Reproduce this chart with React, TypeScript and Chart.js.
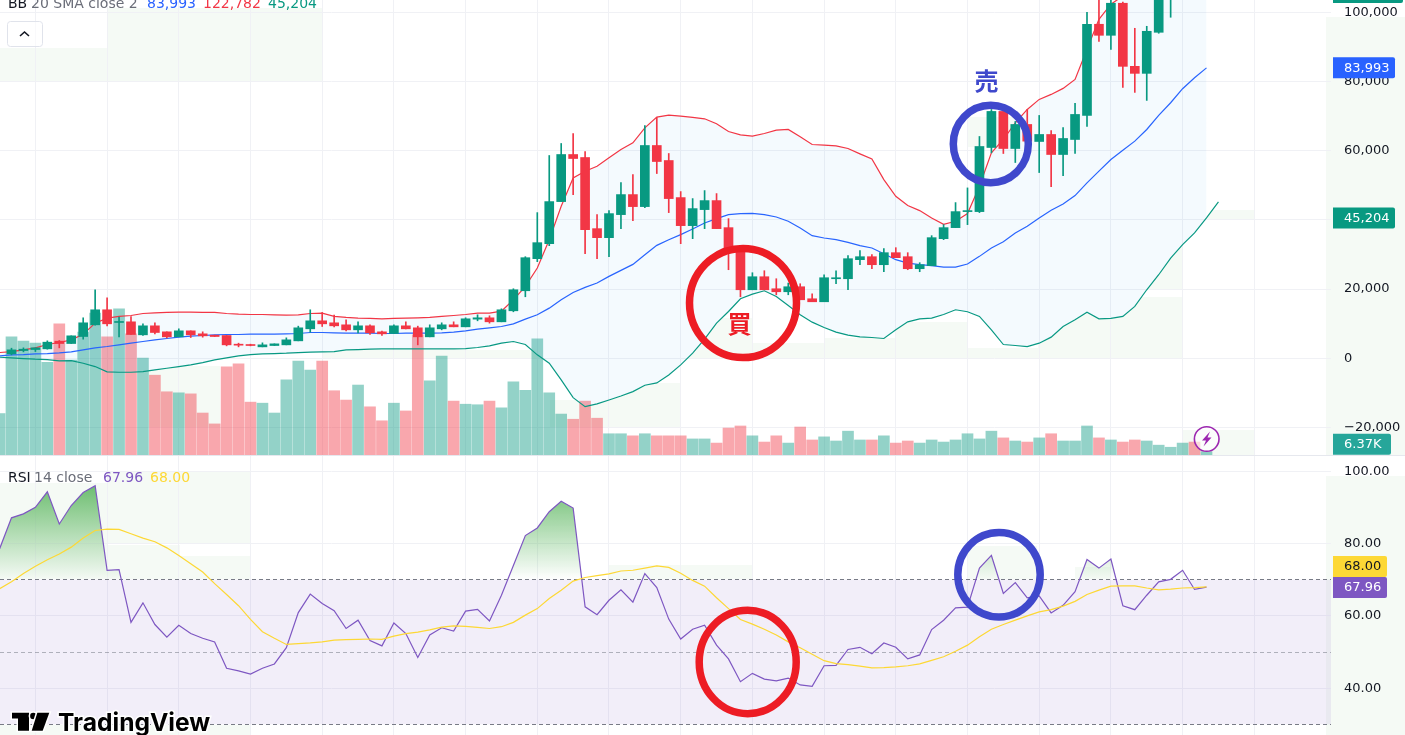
import { useEffect, useRef } from 'react';
import { Chart, registerables } from 'chart.js';

Chart.register(...registerables);

// candles start at bar 0, everything else at bar -1 (half hidden at the left edge)
const candleOpen = [
  1256, 2222, 2512, 2705, 4927, 4250, 6279, 9660, 14007, 10336,
  10529, 6762, 9370, 7631, 6182, 7921, 7052, 6665, 6569, 4057,
  3864, 3284, 3671, 3864, 5023, 8501, 10819, 10240, 9660, 8211,
  9370, 7631, 7149, 9370, 8791, 6182, 8501, 9660, 9080, 11302,
  11689, 10529, 13717, 19513, 28787, 33134, 45305, 58926, 58057, 37481,
  34873, 41538, 47334, 43856, 61534, 57187, 46465, 38350, 42988, 45595,
  37771, 31878, 19803, 23570, 20093, 19223, 20673, 17195, 16325, 22991,
  22991, 28497, 29366, 27048, 30526, 29366, 25889, 26759, 34583, 37771,
  42407, 42407, 60955, 71387, 60665, 67620, 62693, 64722, 58926, 63273,
  70228, 96600, 93412, 102686, 84428, 82400, 94282, 108000, 112000, 118000, 105000,
];
const candleClose = [
  2415, 2608, 2995, 4637, 4250, 6472, 10240, 14007, 9950, 10529,
  6859, 9370, 7438, 6182, 7921, 6762, 6472, 6279, 3864, 3767,
  3671, 3864, 4154, 5313, 8791, 10819, 9950, 9370, 8211, 9370,
  7342, 7052, 9370, 8501, 6182, 8791, 9660, 9080, 11399, 11689,
  10529, 14007, 19803, 29077, 33424, 45305, 58926, 57767, 37191, 34873,
  41828, 47334, 43856, 61534, 56897, 46175, 38350, 43277, 45595, 37481,
  31685, 19803, 23570, 19803, 19223, 20673, 16905, 16325, 23281, 23281,
  28787, 29366, 27048, 30526, 29077, 25889, 27048, 34873, 37771, 42407,
  42698, 61244, 71387, 60665, 67620, 62790, 64722, 58926, 63563, 70518,
  96600, 93412, 102686, 84428, 82400, 94571, 108000, 112000, 118000, 105000, 105800,
];
const candleHigh = [
  2898, 2995, 2995, 5023, 5120, 6472, 11689, 19803, 17485, 11882,
  12075, 9950, 10240, 7631, 8501, 7921, 7631, 6665, 6569, 4347,
  4057, 4444, 4154, 5893, 9274, 14007, 13234, 12462, 11109, 10529,
  9660, 7825, 9660, 10529, 9274, 9660, 10240, 10529, 11689, 12558,
  12268, 14297, 20093, 29366, 42118, 58637, 62114, 65012, 59797, 41538,
  42698, 50812, 53130, 67330, 69648, 59217, 48203, 46175, 48493, 47624,
  40379, 31878, 24730, 25309, 22991, 21735, 21542, 18644, 24150, 25309,
  29656, 31105, 29946, 31685, 31975, 30526, 27628, 35453, 38640, 45016,
  49266, 64142, 71967, 71387, 68490, 71967, 70228, 65881, 66752, 73706,
  100078, 103837, 105000, 103000, 95441, 96020, 110000, 114000, 120000, 119000, 106500,
];
const candleLow = [
  966, 1835, 1932, 2608, 2995, 4250, 5506, 9563, 9370, 6182,
  6859, 6569, 7052, 5893, 6182, 5989, 6086, 6279, 3574, 3284,
  3574, 3284, 3671, 3864, 5023, 7535, 9177, 9080, 7921, 7342,
  6859, 6569, 7149, 8501, 3864, 6182, 8211, 9080, 9080, 10819,
  10143, 10529, 13427, 17774, 27918, 32554, 45305, 47334, 30236, 28787,
  29366, 37481, 39799, 43566, 53420, 42118, 33134, 34583, 37481, 37481,
  25599, 17774, 19803, 19803, 18354, 18354, 16905, 16325, 16325, 21542,
  19803, 27048, 25889, 25020, 29077, 25599, 25020, 26759, 34293, 37771,
  38640, 42118, 59400, 59216, 56608, 62790, 53710, 49652, 52840, 59216,
  67040, 91673, 89356, 78343, 76894, 74576, 94000, 98630, 110000, 104500, 104000,
];
const volumeK = [
  80, 228, 220, 216, 179, 253, 183, 237, 274, 228, 282,
  234, 187, 154, 122, 120, 118, 81, 60, 170, 176,
  102, 100, 81, 145, 181, 164, 181, 124, 106, 135,
  93, 66, 100, 85, 232, 143, 191, 104, 98, 97,
  104, 91, 141, 125, 224, 120, 79, 69, 104, 71,
  41, 41, 37, 41, 37, 37, 37, 31, 31, 23,
  52, 56, 37, 25, 37, 23, 54, 29, 35, 27,
  46, 29, 29, 37, 23, 27, 23, 29, 25, 29,
  41, 31, 46, 33, 27, 25, 33, 41, 27, 27,
  56, 33, 29, 25, 29, 27, 19, 15, 23, 25, 6.37,
];
const bbUpper = [
  1640, 1930, 2415, 2995, 3960, 4540, 5310, 6950, 10140, 11590, 12080,
  12360, 12940, 13140, 13230, 13330, 13330, 13230, 13230, 12940, 12750,
  12650, 12650, 12560, 12460, 12560, 12940, 13040, 12080, 11790, 11590,
  11500, 11400, 11500, 11590, 11690, 11790, 12080, 12360, 12650, 13040,
  13040, 13620, 16900, 20770, 26080, 34290, 43950, 52160, 54100, 55550,
  57960, 60380, 62310, 66650, 69750, 70320, 70040, 69650, 69260, 67810,
  65590, 64630, 64240, 65010, 65980, 66170, 64050, 61820, 61630, 61440,
  60660, 59120, 57670, 51680, 46850, 44150, 42700, 40570, 38740, 39610,
  41830, 49750, 59410, 63270, 68100, 71970, 74870, 76310, 78050, 80660,
  89360, 98050, 102400, 104800, 108000, 110500, 112800, 115000, 117500, 120000, 122782,
];
const bbBasis = [
  680, 970, 1060, 1260, 1350, 1550, 1840, 2420, 2990, 3380, 3860,
  4350, 4830, 5310, 5700, 6090, 6380, 6570, 6760, 6860, 6860,
  6960, 6960, 6960, 7050, 7150, 7440, 7440, 7340, 7250, 7250,
  7250, 7150, 7150, 7250, 7250, 7250, 7340, 7530, 7920, 8400,
  8790, 9180, 9950, 11300, 12560, 14490, 16900, 19030, 20480, 21740,
  23670, 25410, 27140, 29950, 32650, 34290, 35740, 37380, 39120, 40380,
  41540, 41830, 41920, 41540, 40860, 39610, 37670, 35450, 34780, 34290,
  33520, 32550, 31880, 30240, 28500, 27530, 27050, 26760, 26370, 26370,
  27240, 29460, 31880, 33710, 36230, 38160, 40570, 42790, 44630, 47040,
  50720, 54100, 57480, 60180, 62790, 66170, 70230, 73900, 77960, 81140, 83993,
];
const bbLower = [
  290, 100, -100, -290, -390, -770, -680, -1450, -2420, -3960, -4060,
  -4060, -3860, -3380, -2900, -2420, -1930, -1260, -480, 100, 680,
  1060, 1260, 1350, 1450, 1640, 1740, 1840, 1930, 2420, 2510,
  2610, 2700, 2700, 2700, 2700, 2700, 2700, 2700, 2800, 3090,
  3570, 4350, 4830, 3960, 970, -1450, -6280, -11400, -14010, -13230,
  -12080, -10920, -9660, -7820, -7150, -4830, -1930, 1450, 5510, 10140,
  13520, 17200, 18550, 19510, 17870, 15260, 12560, 10430, 8890, 7530,
  6670, 6180, 5990, 5700, 8210, 10530, 11400, 11590, 12650, 14010,
  13430, 12080, 8210, 3960, 3670, 3380, 4350, 6090, 9180, 11110,
  13330, 11400, 11500, 12080, 14970, 19800, 24150, 28980, 32840, 36230, 40570, 45204,
];
const rsiLine = [
  78.5, 87.1, 88.2, 90, 94.3, 85.4, 90.5, 94.1, 96, 72.6, 72.8,
  58.2, 63.6, 57.6, 54.1, 57.4, 55.1, 53.8, 52.8, 45.5, 44.8,
  43.9, 45.5, 46.7, 51.2, 60.9, 66, 63.4, 61.4, 56.5, 58.8,
  53.2, 51.7, 58, 55.1, 48.5, 54.7, 56.7, 55.8, 61.3, 61.8,
  58.6, 65.7, 73.9, 82.2, 84.3, 88.8, 91.7, 89.8, 62.5, 60.3,
  64.3, 67.2, 63.8, 71.7, 67.8, 59.1, 53.6, 56.3, 57.4, 51.9,
  48.1, 41.8, 44.1, 42.5, 42, 42.8, 40.9, 40.5, 46.2, 46.3,
  50.7, 51.3, 49.5, 52.5, 51.3, 48.1, 49.2, 56.2, 58.8, 62.2,
  62.4, 73.2, 76.7, 66.2, 69.2, 65, 65.5, 60.8, 62.9, 66.7,
  75.6, 73.2, 75.7, 62.8, 61.7, 65.7, 69.4, 70.1, 72.6, 67.3, 67.96,
];
const rsiMa = [
  67.5, 69.4, 71.7, 73.7, 75.5, 77.1, 79, 81.5, 83.6, 84, 83.9,
  82.7, 81.5, 80.5, 78.8, 76.7, 74.4, 72.1, 68.9, 65.9, 62.8,
  59, 55.6, 53.8, 52.1, 52.3, 52.5, 52.8, 53.3, 53.4, 53.5,
  53.6, 53.5, 54.4, 55.1, 55.5, 56.1, 56.9, 57.2, 57.1, 56.8,
  56.5, 57, 58.2, 60.2, 62, 64.8, 67.1, 69.6, 70.6, 71.1,
  71.6, 72.4, 72.6, 73.2, 73.8, 73.4, 71.8, 69.8, 68.2, 65,
  62, 59, 57.7, 56.3, 54.7, 52.8, 51.2, 49.4, 47.6, 46.8,
  46.5, 46.1, 45.6, 45.7, 45.9, 46.2, 46.7, 47.7, 48.7, 50.2,
  51.9, 54.2, 56.3, 57.6, 58.8, 60, 61.1, 61.7, 62.7, 64,
  65.9, 67.1, 68.2, 68.3, 68.3, 67.7, 67.2, 67.4, 67.7, 67.8, 68,
];
const gridBars = [2, 8, 14, 20, 26, 32, 38, 44, 50, 56, 62, 68, 74, 80, 86, 92, 98, 104];
const priceTicks = [-20000, 0, 20000, 40000, 60000, 80000, 100000];
const rsiTicks = [40, 60, 80, 100];

// pale green smudges in the screenshot: x, y, w, h in page pixels
const priceShade = [
  [0, 48, 107, 33], [107, 8, 216, 73], [322, 350, 375, 8], [148, 366, 72, 61],
  [550, 400, 60, 27], [610, 383, 70, 44], [697, 318, 56, 40], [753, 343, 71, 15],
  [824, 338, 72, 20], [896, 322, 72, 36], [968, 348, 70, 10], [968, 117, 47, 30],
  [1038, 297, 145, 61], [1141, 243, 42, 47], [1183, 210, 71, 10], [1183, 430, 71, 25],
  [1326, 17, 79, 438],
];
const rsiShade = [
  [0, 483, 107, 96], [107, 472, 143, 71], [107, 545, 73, 34], [180, 556, 70, 23],
  [0, 725, 250, 10], [609, 565, 144, 14], [967, 546, 70, 33], [1075, 567, 36, 12],
  [1326, 476, 79, 259],
];

const UP = '#089981';
const DOWN = '#F23645';
const GRID = '#f0f1f5';
const TEXT = '#131722';
const AXIS_FONT = { family: "'DejaVu Sans'", size: 13 };
const PANE_W = 1405;
const PRICE_H = 455;
const RSI_TOP = 456;
const RSI_H = 279;
const X_MIN = -0.962;
const X_MAX = 110;
const RSI_MIN = 27.05;
const RSI_MAX = 104.2;

const fromBar = (values: number[], first: number) => values.map((y, i) => ({ x: i + first, y }));
const isUp = (bar: number) => bar < 0 || candleClose[bar] >= candleOpen[bar];
const fixedTicks = (values: number[]) => (s: any) => {
  s.ticks = values.map((value) => ({ value }));
};

const xScale = {
  type: 'linear',
  min: X_MIN,
  max: X_MAX,
  offset: false,
  border: { display: false },
  grid: { color: GRID, drawTicks: false, offset: false },
  ticks: { display: false },
  afterBuildTicks: fixedTicks(gridBars),
};

const fitAxis = (s: any) => {
  s.width = PANE_W - 1326;
  s.paddingTop = 0;
  s.paddingBottom = 0;
};

interface Tag {
  scale: string;
  value: number;
  text: string;
  bg: string;
  fg: string;
  w: number;
  dy?: number;
}

// background smudges below the grid, price tags on top of the axis
const paneDecor = (id: string, shade: number[][], top: number, tags: Tag[]) => ({
  id,
  beforeDraw(chart: any) {
    const { ctx } = chart;
    ctx.save();
    ctx.fillStyle = '#f5faf5';
    shade.forEach(([x, y, w, h]) => ctx.fillRect(x, y - top, w, h));
    ctx.restore();
  },
  afterDraw(chart: any) {
    const { ctx, chartArea } = chart;
    ctx.save();
    ctx.font = "13px 'DejaVu Sans'";
    ctx.textBaseline = 'middle';
    tags.forEach((t) => {
      const y = chart.scales[t.scale].getPixelForValue(t.value) + (t.dy || 0);
      ctx.fillStyle = t.bg;
      ctx.beginPath();
      ctx.roundRect(chartArea.right + 7, y - 10.5, t.w, 21, [0, 2, 2, 0]);
      ctx.fill();
      ctx.fillStyle = t.fg;
      ctx.fillText(t.text, chartArea.right + 18, y + 0.5);
    });
    ctx.restore();
  },
});

// the smudges don't show inside the bollinger band, so wipe them there
const bandKnockout = {
  id: 'bandKnockout',
  beforeDraw(chart: any) {
    const { ctx, chartArea, scales } = chart;
    ctx.save();
    ctx.beginPath();
    ctx.rect(chartArea.left, chartArea.top, chartArea.width, chartArea.height);
    ctx.clip();
    ctx.beginPath();
    bbUpper.forEach((v, i) => ctx.lineTo(scales.x.getPixelForValue(i - 1), scales.y.getPixelForValue(v)));
    for (let i = bbLower.length - 1; i >= 0; i--) {
      ctx.lineTo(scales.x.getPixelForValue(i - 1), scales.y.getPixelForValue(bbLower[i]));
    }
    ctx.closePath();
    ctx.fillStyle = '#fff';
    ctx.fill();
    ctx.restore();
  },
};

const rsiLevels = {
  id: 'rsiLevels',
  beforeDatasetsDraw(chart: any) {
    const { ctx, chartArea, scales } = chart;
    const right = chartArea.right + 5;
    const y70 = scales.y.getPixelForValue(70);
    const y50 = scales.y.getPixelForValue(50);
    const y30 = scales.y.getPixelForValue(30);
    ctx.save();
    ctx.fillStyle = 'rgba(126,87,194,0.1)';
    ctx.fillRect(0, y70, right, y30 - y70);
    ctx.setLineDash([4, 3]);
    ctx.lineWidth = 1;
    [[y70, '#787B86'], [y50, 'rgba(120,123,134,0.55)'], [y30, '#787B86']].forEach(([y, c]: any) => {
      ctx.strokeStyle = c;
      ctx.beginPath();
      ctx.moveTo(0, Math.floor(y) + 0.5);
      ctx.lineTo(right, Math.floor(y) + 0.5);
      ctx.stroke();
    });
    ctx.restore();
  },
};

function PricePane() {
  const ref = useRef<HTMLCanvasElement>(null);

  useEffect(() => {
    if (!ref.current) return;
    const candleColors = candleOpen.map((_, i) => (isUp(i) ? UP : DOWN));
    const volumeColors = volumeK.map((_, i) => (isUp(i - 1) ? 'rgba(8,153,129,0.44)' : 'rgba(242,54,69,0.44)'));
    const line = (label: string, data: number[], color: string, extra = {}) => ({
      type: 'line',
      label,
      data: fromBar(data, -1),
      borderColor: color,
      borderWidth: 1.2,
      pointRadius: 0,
      tension: 0,
      order: 5,
      ...extra,
    });
    const chart = new Chart(ref.current, {
      type: 'bar',
      data: {
        datasets: [
          {
            label: 'Volume',
            data: fromBar(volumeK, -1),
            yAxisID: 'yv',
            backgroundColor: volumeColors,
            barThickness: 11,
            grouped: false,
            order: 10,
          },
          line('Upper', bbUpper, DOWN, { fill: '+2', backgroundColor: 'rgba(33,150,243,0.05)' }),
          line('Basis', bbBasis, '#2962FF'),
          line('Lower', bbLower, UP),
          {
            label: 'Wick',
            data: candleHigh.map((h, i) => ({ x: i, y: [candleLow[i], h] })),
            backgroundColor: candleColors,
            barThickness: 1,
            grouped: false,
            order: 2,
          },
          {
            label: 'Body',
            data: candleOpen.map((o, i) => ({ x: i, y: [o, candleClose[i]] })),
            backgroundColor: candleColors,
            barThickness: 9,
            minBarLength: 1,
            grouped: false,
            order: 1,
          },
        ],
      } as any,
      options: {
        responsive: false,
        animation: false,
        events: [],
        layout: { padding: 0 },
        plugins: { legend: { display: false }, tooltip: { enabled: false } },
        scales: {
          x: xScale,
          y: {
            position: 'right',
            min: -28000,
            max: 103623,
            afterBuildTicks: fixedTicks(priceTicks),
            afterFit: fitAxis,
            border: { display: false },
            grid: { color: GRID, tickColor: GRID, tickLength: 5 },
            ticks: {
              autoSkip: false,
              crossAlign: 'near',
              padding: 13,
              color: TEXT,
              font: AXIS_FONT,
              callback: (v: number) => (v < 0 ? '\u2212' : '') + Math.abs(v).toLocaleString('en-US'),
            },
          },
          yv: { display: false, min: 0, max: 878 },
        },
      } as any,
      plugins: [
        paneDecor('priceDecor', priceShade, 0, [
          { scale: 'y', value: candleClose[100], text: '105,800', bg: UP, fg: '#fff', w: 70 },
          { scale: 'y', value: bbBasis[101], text: '83,993', bg: '#2962FF', fg: '#fff', w: 62 },
          { scale: 'y', value: bbLower[101], text: '45,204', bg: UP, fg: '#fff', w: 62 },
          { scale: 'yv', value: volumeK[101], text: '6.37K', bg: '#26A69A', fg: '#fff', w: 58, dy: -7.5 },
        ]),
        bandKnockout,
      ],
    } as any);
    return () => chart.destroy();
  }, []);

  return <canvas ref={ref} width={PANE_W} height={PRICE_H} style={{ position: 'absolute', left: 0, top: 0 }} />;
}

function RsiPane() {
  const ref = useRef<HTMLCanvasElement>(null);

  useEffect(() => {
    if (!ref.current) return;
    const ctx = ref.current.getContext('2d')!;
    const rsiY = (v: number) => (RSI_H * (RSI_MAX - v)) / (RSI_MAX - RSI_MIN);
    const overbought = ctx.createLinearGradient(0, rsiY(96), 0, rsiY(70));
    overbought.addColorStop(0, 'rgba(76,175,80,0.8)');
    overbought.addColorStop(1, 'rgba(76,175,80,0)');
    const chart = new Chart(ref.current, {
      type: 'line',
      data: {
        datasets: [
          {
            label: 'RSI',
            data: fromBar(rsiLine, -1),
            borderColor: '#7E57C2',
            borderWidth: 1.2,
            pointRadius: 0,
            tension: 0,
            fill: { target: { value: 70 }, above: overbought, below: 'transparent' },
            order: 2,
          },
          {
            label: 'RSI MA',
            data: fromBar(rsiMa, -1),
            borderColor: '#FDD835',
            borderWidth: 1.2,
            pointRadius: 0,
            tension: 0,
            order: 1,
          },
        ],
      },
      options: {
        responsive: false,
        animation: false,
        events: [],
        layout: { padding: 0 },
        plugins: { legend: { display: false }, tooltip: { enabled: false } },
        scales: {
          x: xScale,
          y: {
            position: 'right',
            min: RSI_MIN,
            max: RSI_MAX,
            afterBuildTicks: fixedTicks(rsiTicks),
            afterFit: fitAxis,
            border: { display: false },
            grid: { color: GRID, tickColor: GRID, tickLength: 5 },
            ticks: {
              autoSkip: false,
              crossAlign: 'near',
              padding: 13,
              color: TEXT,
              font: AXIS_FONT,
              callback: (v: number) => v.toFixed(2),
            },
          },
        },
      } as any,
      plugins: [
        rsiLevels,
        paneDecor('rsiDecor', rsiShade, RSI_TOP, [
          { scale: 'y', value: 68, text: '68.00', bg: '#FDD835', fg: TEXT, w: 54, dy: -20.5 },
          { scale: 'y', value: 67.96, text: '67.96', bg: '#7E57C2', fg: '#fff', w: 54, dy: 0.5 },
        ]),
      ],
    } as any);
    return () => chart.destroy();
  }, []);

  return <canvas ref={ref} width={PANE_W} height={RSI_H} style={{ position: 'absolute', left: 0, top: RSI_TOP }} />;
}

// hand drawn marks, legends and the logo that sit over the two panes
function Overlay() {
  const legend = { fontFamily: "'DejaVu Sans'", fontSize: 14 };
  const mark = { fontFamily: "'Noto Sans CJK JP'", fontSize: 24, fontWeight: 700, textAnchor: 'middle' as const };
  return (
    <svg width={PANE_W} height={735} style={{ position: 'absolute', left: 0, top: 0, pointerEvents: 'none' }}>
      <g style={legend}>
        <text y={8}>
          <tspan x={8} fill={TEXT}>BB</tspan>
          <tspan x={31} fill="#6a6d78">20 SMA close 2</tspan>
          <tspan x={147} fill="#2962FF">83,993</tspan>
          <tspan x={203} fill={DOWN}>122,782</tspan>
          <tspan x={268} fill={UP}>45,204</tspan>
        </text>
        <text y={482}>
          <tspan x={8} fill={TEXT}>RSI</tspan>
          <tspan x={34} fill="#6a6d78">14 close</tspan>
          <tspan x={103} fill="#7E57C2">67.96</tspan>
          <tspan x={150} fill="#FDD835">68.00</tspan>
        </text>
      </g>

      <rect x={7.5} y={21.5} width={35} height={25} rx={3} fill="#fff" fillOpacity={0.6} stroke="#e0e3eb" />
      <polyline points="20,36 24.5,32 29,36" fill="none" stroke={TEXT} strokeWidth={1.6} />

      <ellipse cx={743} cy={303} rx={53.5} ry={54.5} fill="none" stroke="#ed1c24" strokeWidth={7.5} />
      <ellipse cx={747.7} cy={662} rx={48.5} ry={51.7} fill="none" stroke="#ed1c24" strokeWidth={7.5} />
      <ellipse cx={990.8} cy={144} rx={37.5} ry={38.7} fill="none" stroke="#3f48cc" strokeWidth={7.5} />
      <ellipse cx={999} cy={574.7} rx={41.2} ry={42.2} fill="none" stroke="#3f48cc" strokeWidth={7.5} />
      <text x={739.5} y={333} fill="#ed1c24" style={mark}>買</text>
      <text x={986.5} y={90} fill="#3f48cc" style={mark}>売</text>

      <circle cx={1206.7} cy={439} r={12.3} fill="#fff" fillOpacity={0.6} stroke="#9c27b0" strokeWidth={1.6} />
      <polygon points="1210,431.5 1202,440.5 1206,440.5 1203.5,446.5 1211.5,437.5 1207.5,437.5" fill="#9c27b0" />

      <g stroke="#fff" strokeWidth={3} style={{ paintOrder: 'stroke' }}>
        <polygon points="12,712.7 29,712.7 29,730.7 18,730.7 18,718.5 12,718.5" fill="#000" />
        <circle cx={33.3} cy={716} r={3.2} fill="#000" />
        <polygon points="37.3,712.7 49.3,712.7 42.7,730.7 31.7,730.7" fill="#000" />
        <text x={58} y={730.7} fill="#000" style={{ fontFamily: 'Inter', fontSize: 24.6, fontWeight: 700 }}>
          TradingView
        </text>
      </g>
    </svg>
  );
}

export default function App() {
  useEffect(() => {
    document.body.style.margin = '0';
  }, []);

  return (
    <div style={{ position: 'relative', width: PANE_W, height: 735, overflow: 'hidden', background: '#fff' }}>
      <PricePane />
      <div style={{ position: 'absolute', left: 0, top: PRICE_H, width: PANE_W, height: 1, background: '#e6e8ee' }} />
      <RsiPane />
      <Overlay />
    </div>
  );
}
